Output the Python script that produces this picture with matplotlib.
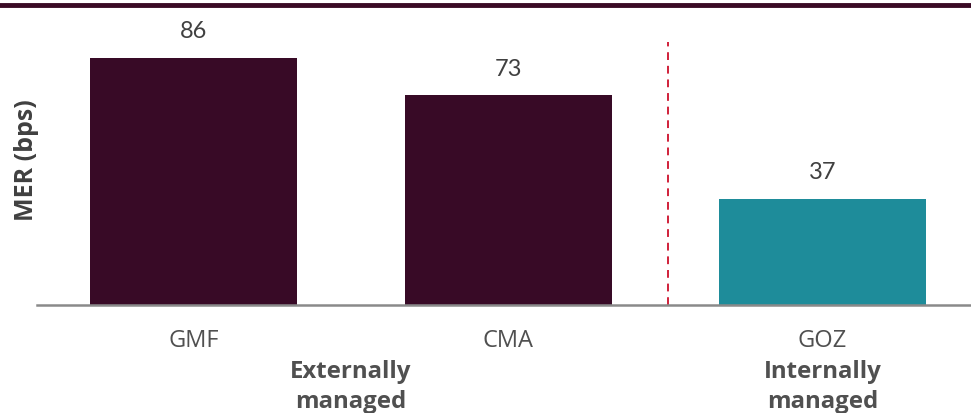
import matplotlib
matplotlib.use("Agg")
import matplotlib.pyplot as plt
from matplotlib.lines import Line2D

categories = ["GMF", "CMA", "GOZ"]
values = [86, 73, 37]
bar_colors = ["#380A26", "#380A26", "#1E8C9A"]
group_labels = ["Externally\nmanaged", "Internally\nmanaged"]
ylabel = "MER (bps)"

W, H = 971, 413
fig = plt.figure(figsize=(W / 100, H / 100), dpi=100)
ax_left, ax_right = 37 / W, 1.0
ax_bottom, ax_top = (H - 305) / H, (H - 42) / H
ax = fig.add_axes([ax_left, ax_bottom, ax_right - ax_left, ax_top - ax_bottom])

x = list(range(len(categories)))
ax.bar(x, values, width=0.658, color=bar_colors, zorder=2)
ax.set_xlim(-0.498, 2.472)
ax.set_ylim(0, 91.6)

digit_font = "Lato"
label_font = "Open Sans"
for xi, v in zip(x, values):
    ax.text(xi, v + 5.5, str(v), ha="center", va="bottom", fontsize=17,
            color="#404040", family=digit_font, clip_on=False)

# separator
ax.axvline(1.509, color="#D0203A", linestyle=(0, (4, 3)), linewidth=1.4, zorder=1)

for s in ["top", "right", "left"]:
    ax.spines[s].set_visible(False)
ax.spines["bottom"].set_color("#8A8A8A")
ax.spines["bottom"].set_linewidth(1.8)
ax.set_yticks([])
ax.set_xticks(x)
ax.set_xticklabels(categories, fontsize=17, color="#505050", family=label_font)
ax.tick_params(axis="x", length=0, pad=17)

ax.set_ylabel(ylabel, fontsize=18, fontweight="bold", color="#404040", family=label_font)
ax.yaxis.set_label_coords(0.002, 0.551)

# group labels
for gx, lab in zip([0.5, 2.0], group_labels):
    ax.text(gx, -0.208, lab, transform=ax.get_xaxis_transform(), ha="center", va="top",
            fontsize=17.3, fontweight="bold", color="#505050", family=label_font,
            linespacing=1.36, clip_on=False)

# top rule
fig.add_artist(Line2D([0, 1], [1 - 5 / H, 1 - 5 / H], transform=fig.transFigure,
                      color="#3A0A25", linewidth=3.5))

fig.savefig("out.png", dpi=100)
